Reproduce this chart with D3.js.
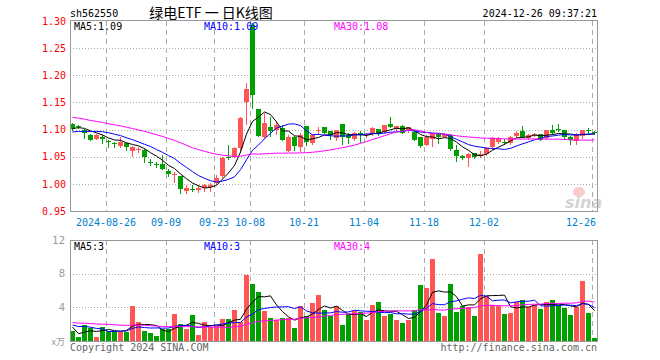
<!DOCTYPE html>
<html><head><meta charset="utf-8">
<script src="https://cdn.jsdelivr.net/npm/d3@7/dist/d3.min.js"></script>
<style>body{margin:0;background:#fff}svg{display:block}</style>
</head><body>
<svg id="c" width="660" height="360"></svg>
<script>
const dates = ["2024-08-16","2024-08-19","2024-08-20","2024-08-21","2024-08-22","2024-08-23",
"2024-08-26","2024-08-27","2024-08-28","2024-08-29","2024-08-30",
"2024-09-02","2024-09-03","2024-09-04","2024-09-05","2024-09-06",
"2024-09-09","2024-09-10","2024-09-11","2024-09-12","2024-09-13",
"2024-09-18","2024-09-19","2024-09-20",
"2024-09-23","2024-09-24","2024-09-25","2024-09-26","2024-09-27","2024-09-30",
"2024-10-08","2024-10-09","2024-10-10","2024-10-11",
"2024-10-14","2024-10-15","2024-10-16","2024-10-17","2024-10-18",
"2024-10-21","2024-10-22","2024-10-23","2024-10-24","2024-10-25",
"2024-10-28","2024-10-29","2024-10-30","2024-10-31","2024-11-01",
"2024-11-04","2024-11-05","2024-11-06","2024-11-07","2024-11-08",
"2024-11-11","2024-11-12","2024-11-13","2024-11-14","2024-11-15",
"2024-11-18","2024-11-19","2024-11-20","2024-11-21","2024-11-22",
"2024-11-25","2024-11-26","2024-11-27","2024-11-28","2024-11-29",
"2024-12-02","2024-12-03","2024-12-04","2024-12-05","2024-12-06",
"2024-12-09","2024-12-10","2024-12-11","2024-12-12","2024-12-13",
"2024-12-16","2024-12-17","2024-12-18","2024-12-19","2024-12-20",
"2024-12-23","2024-12-24","2024-12-25","2024-12-26"];

const opens  = [1.111,1.106,1.100,1.090,1.083,1.087,1.079,1.075,1.070,1.075,1.061,1.063,1.062,1.041,1.037,1.036,1.024,1.018,1.015,0.986,0.990,0.989,0.992,0.995,1.001,1.015,1.050,1.049,1.066,1.151,1.292,1.137,1.086,1.104,1.099,1.102,1.061,1.087,1.067,1.107,1.076,1.098,1.104,1.097,1.084,1.110,1.090,1.082,1.094,1.090,1.093,1.101,1.096,1.110,1.101,1.107,1.097,1.096,1.086,1.072,1.082,1.091,1.087,1.090,1.062,1.052,1.047,1.056,1.054,1.055,1.067,1.078,1.077,1.076,1.088,1.097,1.084,1.090,1.091,1.084,1.099,1.101,1.099,1.087,1.079,1.088,1.099,1.095];
const highs  = [1.112,1.108,1.101,1.091,1.091,1.090,1.080,1.078,1.086,1.076,1.069,1.067,1.065,1.046,1.040,1.053,1.028,1.022,1.015,0.997,0.997,0.997,0.999,1.001,1.016,1.049,1.071,1.067,1.124,1.185,1.297,1.138,1.130,1.124,1.116,1.108,1.090,1.088,1.093,1.107,1.092,1.104,1.104,1.097,1.100,1.110,1.093,1.096,1.097,1.093,1.104,1.101,1.109,1.124,1.107,1.108,1.105,1.100,1.087,1.090,1.093,1.093,1.093,1.091,1.071,1.053,1.056,1.057,1.061,1.067,1.087,1.087,1.083,1.088,1.097,1.106,1.091,1.093,1.092,1.100,1.108,1.110,1.099,1.088,1.093,1.100,1.102,1.097];
const lows   = [1.100,1.103,1.084,1.080,1.082,1.075,1.067,1.068,1.068,1.062,1.052,1.059,1.041,1.034,1.031,1.028,1.014,1.003,0.983,0.983,0.987,0.985,0.987,0.987,1.000,1.013,1.045,1.049,1.058,1.110,1.139,1.088,1.084,1.088,1.091,1.080,1.060,1.062,1.060,1.072,1.074,1.092,1.093,1.082,1.080,1.073,1.075,1.080,1.077,1.087,1.090,1.090,1.094,1.104,1.100,1.093,1.095,1.080,1.068,1.071,1.070,1.075,1.086,1.062,1.043,1.046,1.033,1.048,1.050,1.053,1.064,1.076,1.073,1.073,1.087,1.086,1.083,1.088,1.080,1.082,1.092,1.097,1.083,1.074,1.074,1.084,1.094,1.092];
const closes = [1.101,1.105,1.093,1.081,1.090,1.082,1.077,1.074,1.078,1.067,1.067,1.064,1.049,1.040,1.036,1.028,1.018,1.019,0.990,0.992,0.989,0.992,0.998,0.997,1.010,1.047,1.049,1.066,1.121,1.175,1.164,1.089,1.113,1.097,1.108,1.081,1.087,1.070,1.090,1.078,1.090,1.099,1.094,1.090,1.099,1.087,1.084,1.093,1.090,1.091,1.102,1.092,1.108,1.105,1.106,1.094,1.104,1.081,1.070,1.086,1.091,1.087,1.091,1.064,1.052,1.047,1.055,1.050,1.055,1.066,1.084,1.083,1.076,1.087,1.094,1.087,1.090,1.091,1.081,1.099,1.093,1.100,1.087,1.080,1.090,1.099,1.098,1.094];
const volumes = [1.19,0.51,1.90,1.58,0.51,1.66,1.23,1.19,1.11,1.11,4.20,2.22,1.19,0.99,0.63,1.39,1.39,3.21,1.98,1.43,3.09,0.71,2.22,1.70,1.80,2.60,2.61,3.68,2.22,7.84,6.77,5.86,3.56,2.77,2.49,2.77,2.77,1.58,4.20,3.01,4.48,5.46,3.68,2.97,4.12,1.90,3.17,3.56,3.48,2.49,4.28,4.67,3.01,3.21,2.49,2.18,2.49,3.68,6.65,6.34,9.74,3.37,2.97,6.77,3.48,4.16,4.08,2.97,10.3,5.35,4.28,4.16,3.17,3.37,4.67,4.87,4.08,4.28,3.80,4.67,4.87,4.28,3.96,3.09,4.08,7.17,3.37,0.40];
// sessions before the first visible day (only feed the moving averages at the left edge)
const priorCloses = [1.150,1.148,1.152,1.145,1.140,1.143,1.138,1.135,1.140,1.142,1.136,1.130,1.133,1.128,1.125,1.130,1.127,1.122,1.125,1.131,1.095,1.090,1.085,1.088,1.089,1.096,1.100,1.104,1.108];
const priorVolumes = [2.5,2.1,2.8,2.2,2.4,1.9,2.6,2.3,2.0,2.7,2.4,2.2,2.5,2.1,2.3,2.6,2.2,2.4,2.0,2.5,2.3,1.8,2.5,1.9,2.2,4.5,0.9,0.8,0.9];

const priceTicks = [0.95,1.00,1.05,1.10,1.15,1.20,1.25,1.30];
const volumeTicks = [4,8,12];
const tickDates = ["2024-08-26","2024-09-09","2024-09-23","2024-10-08","2024-10-21","2024-11-04","2024-11-18","2024-12-02","2024-12-26"];
const tickLabels = ["2024-08-26","09-09","09-23","10-08","10-21","11-04","11-18","12-02","12-26"];
const maPeriods = [5,10,30];
const priceMALabels = ["MA5:1.09","MA10:1.09","MA30:1.08"];
const volumeMALabels = ["MA5:3","MA10:3","MA30:4"];
const titleCode = "sh562550";
const titleText = "绿电ETF 一 日K线图";
const timeText = "2024-12-26 09:37:21";

const svg = d3.select("#c");
const L = 70, R = 597, PT = 21, PB = 211, VT = 240, VB = 341;
const mono = "'DejaVu Sans Mono', monospace";
const maColors = ["#000000","#0000ff","#ff00ff"];
const RED = "#ff5555", GREEN = "#00a000", GRID = "#aaaaaa";

const x = d3.scaleBand().domain(dates).range([L, L + 6*dates.length]).paddingInner(0).paddingOuter(0);
const y = d3.scaleLinear().domain([0.95,1.30]).range([PB, PT]);
const yv = d3.scaleLinear().domain([0,12]).range([VB, VT]);

function movingAvg(prior, vals, n){
  const all = prior.concat(vals), off = prior.length;
  return vals.map((v,i)=>d3.mean(all.slice(off+i-n+1, off+i+1)));
}
const data = dates.map((d,i)=>({d, o:opens[i], h:highs[i], l:lows[i], c:closes[i], v:volumes[i]}));

// header
svg.append("text").attr("x",L).attr("y",17).attr("font-family",mono).attr("font-size",10).attr("fill","#000").text(titleCode);
svg.append("text").attr("x",211).attr("y",18).attr("text-anchor","middle").attr("font-family","'Noto Sans CJK SC', sans-serif").attr("font-size",14).attr("fill","#000").text(titleText);
svg.append("text").attr("x",R).attr("y",17).attr("text-anchor","end").attr("font-family",mono).attr("font-size",10).attr("fill","#000").text(timeText);

// grids
const g = svg.append("g");
g.selectAll("line.hp").data(priceTicks.filter(t=>t>0.96 && t<1.29)).enter().append("line")
  .attr("x1",L).attr("x2",R).attr("y1",d=>Math.round(y(d))+0.5).attr("y2",d=>Math.round(y(d))+0.5)
  .attr("stroke",GRID).attr("stroke-dasharray","1,2");
g.selectAll("line.hv").data(volumeTicks.filter(t=>t<12)).enter().append("line")
  .attr("x1",L).attr("x2",R).attr("y1",d=>Math.round(yv(d))+0.5).attr("y2",d=>Math.round(yv(d))+0.5)
  .attr("stroke",GRID).attr("stroke-dasharray","1,2");
tickDates.forEach(td=>{
  const xx = x(td)+0.5;
  [[PT,PB],[VT,VB]].forEach(([a,b])=>{
    g.append("line").attr("x1",xx).attr("x2",xx).attr("y1",a).attr("y2",b)
      .attr("stroke","#aaaaaa").attr("stroke-dasharray","5,4");
  });
});

// watermark
const wm = svg.append("g").attr("opacity",0.55);
wm.append("ellipse").attr("cx",579).attr("cy",192).attr("rx",6).attr("ry",5).attr("fill","#f4a0a0");
wm.append("text").attr("x",565).attr("y",208).attr("font-family","'DejaVu Sans', sans-serif").attr("font-style","italic").attr("font-weight","bold").attr("font-size",16).attr("fill","#b0b0b0").text("sina");

// axes labels
const ya = svg.append("g").attr("transform",`translate(${L},0)`).call(d3.axisLeft(y).tickValues(priceTicks).tickFormat(d3.format(".2f")).tickSize(0).tickPadding(4));
ya.select(".domain").remove();
ya.selectAll("text").attr("font-family",mono).attr("font-size",10).attr("fill","#ff0000");
const va = svg.append("g").attr("transform",`translate(${L},0)`).call(d3.axisLeft(yv).tickValues(volumeTicks).tickSize(0).tickPadding(5));
va.select(".domain").remove();
va.selectAll("text").attr("font-family","'DejaVu Sans', sans-serif").attr("font-size",10).attr("fill","#999");
svg.append("text").attr("x",65).attr("y",345).attr("text-anchor","end").attr("font-family","'Noto Sans CJK SC', sans-serif").attr("font-size",9).attr("fill","#999").text("x万");

// date labels
tickDates.forEach((td,k)=>{
  const cx = x(td);
  const t = svg.append("text").attr("y",226).attr("font-family",mono).attr("font-size",10).attr("fill","#0080d0").text(tickLabels[k]);
  const w = tickLabels[k].length*6.02;
  let xx = cx - w/2; if (xx + w > R-1) xx = R-1-w;
  t.attr("x",xx);
});

// candles
const cg = svg.append("g");
data.forEach(p=>{
  const x0 = x(p.d), up = p.c >= p.o, col = up ? RED : GREEN;
  cg.append("line").attr("x1",x0+2.5).attr("x2",x0+2.5).attr("y1",Math.round(y(p.h))).attr("y2",Math.round(y(p.l))+1).attr("stroke",col);
  const top = Math.round(y(Math.max(p.o,p.c))), bot = Math.round(y(Math.min(p.o,p.c)));
  cg.append("rect").attr("x",x0).attr("width",5).attr("y",top).attr("height",Math.max(1,bot-top)).attr("fill",col);
  cg.append("rect").attr("x",x0).attr("width",5).attr("y",Math.round(yv(p.v))).attr("height",VB-Math.round(yv(p.v))).attr("fill",col);
});

// moving averages
maPeriods.forEach((n,k)=>{
  const mp = movingAvg(priorCloses, closes, n);
  const mv = movingAvg(priorVolumes, volumes, n);
  svg.append("path").datum(mp).attr("fill","none").attr("stroke",maColors[k]).attr("stroke-width",1)
    .attr("d", d3.line().x((d,i)=>x(dates[i])+2.5).y(d=>y(d)));
  svg.append("path").datum(mv).attr("fill","none").attr("stroke",maColors[k]).attr("stroke-width",1)
    .attr("d", d3.line().x((d,i)=>x(dates[i])+2.5).y(d=>yv(d)));
});

// MA legends
const lx = [74,204,334];
priceMALabels.forEach((t,k)=>svg.append("text").attr("x",lx[k]).attr("y",30).attr("font-family",mono).attr("font-size",10).attr("fill",maColors[k]).text(t));
volumeMALabels.forEach((t,k)=>svg.append("text").attr("x",lx[k]).attr("y",250).attr("font-family",mono).attr("font-size",10).attr("fill",maColors[k]).text(t));

// frames
svg.append("rect").attr("x",L+0.5).attr("y",PT-0.5).attr("width",R-L).attr("height",PB-PT+1).attr("fill","none").attr("stroke","#999");
svg.append("rect").attr("x",L+0.5).attr("y",VT+0.5).attr("width",R-L).attr("height",VB-VT).attr("fill","none").attr("stroke","#999");

// footer
svg.append("text").attr("x",L).attr("y",351).attr("font-family",mono).attr("font-size",10).attr("fill","#666").text("Copyright 2024 SINA.COM");
svg.append("text").attr("x",R).attr("y",351).attr("text-anchor","end").attr("font-family",mono).attr("font-size",10).attr("fill","#666").text("http://finance.sina.com.cn");
</script>
</body></html>
